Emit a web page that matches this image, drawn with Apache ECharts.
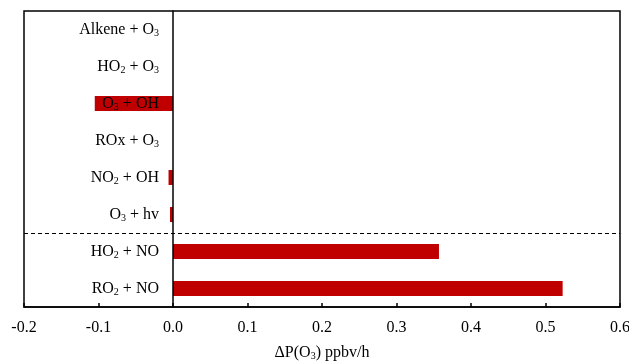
<!DOCTYPE html>
<html>
<head>
<meta charset="utf-8">
<script src="https://cdn.jsdelivr.net/npm/echarts@6/dist/echarts.min.js"></script>
<style>
    html, body {margin: 0; padding: 0; background: #fff;}
    #chart {width: 629px; height: 363px;}
</style>
</head>
<body>
<div id="chart"></div>
<script>
// reactions, listed top to bottom
var categories = ['Alkene + O₃', 'HO₂ + O₃', 'O₃ + OH', 'ROx + O₃', 'NO₂ + OH', 'O₃ + hv', 'HO₂ + NO', 'RO₂ + NO'];
var values = [0, 0, -0.105, 0, -0.006, -0.004, 0.357, 0.523];
var xTicks = {min: -0.2, max: 0.6, interval: 0.1};
var xName = 'ΔP(O₃) ppbv/h';
// dashed separator sits after the 6th reaction
var separatorAfter = 6;

// turn the subscript digits into rich text pieces
function subText(s) {
    return s.replace(/[₂₃]/g, function (c) {
        return '{sub|' + (c === '₂' ? '2' : '3') + '}';
    }).split(/(\{sub\|\d\})/).map(function (p) {
        if (p === '' || p.indexOf('{sub|') === 0) return p;
        return '{n|' + p + '}';
    }).join('');
}

var font = 'Liberation Serif';
var richStyle = {
    n: {fontFamily: font, fontSize: 16, color: '#000'},
    sub: {fontFamily: font, fontSize: 10, color: '#000', padding: [7, 0, 0, 0]}
};
var gridLeft = 24;

var chart = echarts.init(document.getElementById('chart'));
chart.setOption({
    animation: false,
    grid: {
        left: gridLeft, right: 9, top: 11, bottom: 56,
        outerBoundsMode: 'none', containLabel: false,
        show: true, borderColor: '#000', borderWidth: 1.5
    },
    xAxis: {
        type: 'value',
        min: xTicks.min, max: xTicks.max, interval: xTicks.interval,
        name: subText(xName),
        nameLocation: 'middle',
        nameGap: 37,
        nameTextStyle: {rich: richStyle},
        axisLine: {show: true, onZero: false, lineStyle: {color: '#000', width: 1.5}},
        axisTick: {show: true, inside: true, length: 4, lineStyle: {color: '#000', width: 1.5}},
        axisLabel: {
            fontFamily: font, fontSize: 16, color: '#000', margin: 13,
            formatter: function (v) { return v.toFixed(1); }
        },
        splitLine: {show: false}
    },
    yAxis: [{
        type: 'category',
        inverse: true,
        data: categories,
        z: 5,
        offset: 0,
        axisLine: {onZero: false, lineStyle: {color: '#000', width: 1.5}},
        axisTick: {show: false},
        axisLabel: {
            margin: 14,
            formatter: function (v) { return subText(v); },
            rich: richStyle
        },
        splitLine: {show: false}
    }, {
        type: 'value',
        show: false,
        inverse: true,
        min: 0, max: categories.length
    }],
    series: [{
        type: 'bar',
        data: values,
        barWidth: 15,
        itemStyle: {color: '#C00000'}
    }, {
        type: 'line',
        yAxisIndex: 1,
        data: [],
        markLine: {
            silent: true,
            symbol: 'none',
            label: {show: false},
            lineStyle: {color: '#000', type: [4, 3], width: 1},
            data: [{yAxis: separatorAfter}]
        }
    }]
});

// move the category axis over to x = 0
var zeroX = chart.convertToPixel({xAxisIndex: 0}, 0);
chart.setOption({yAxis: [{offset: -(zeroX - gridLeft)}, {}]});
</script>
</body>
</html>
